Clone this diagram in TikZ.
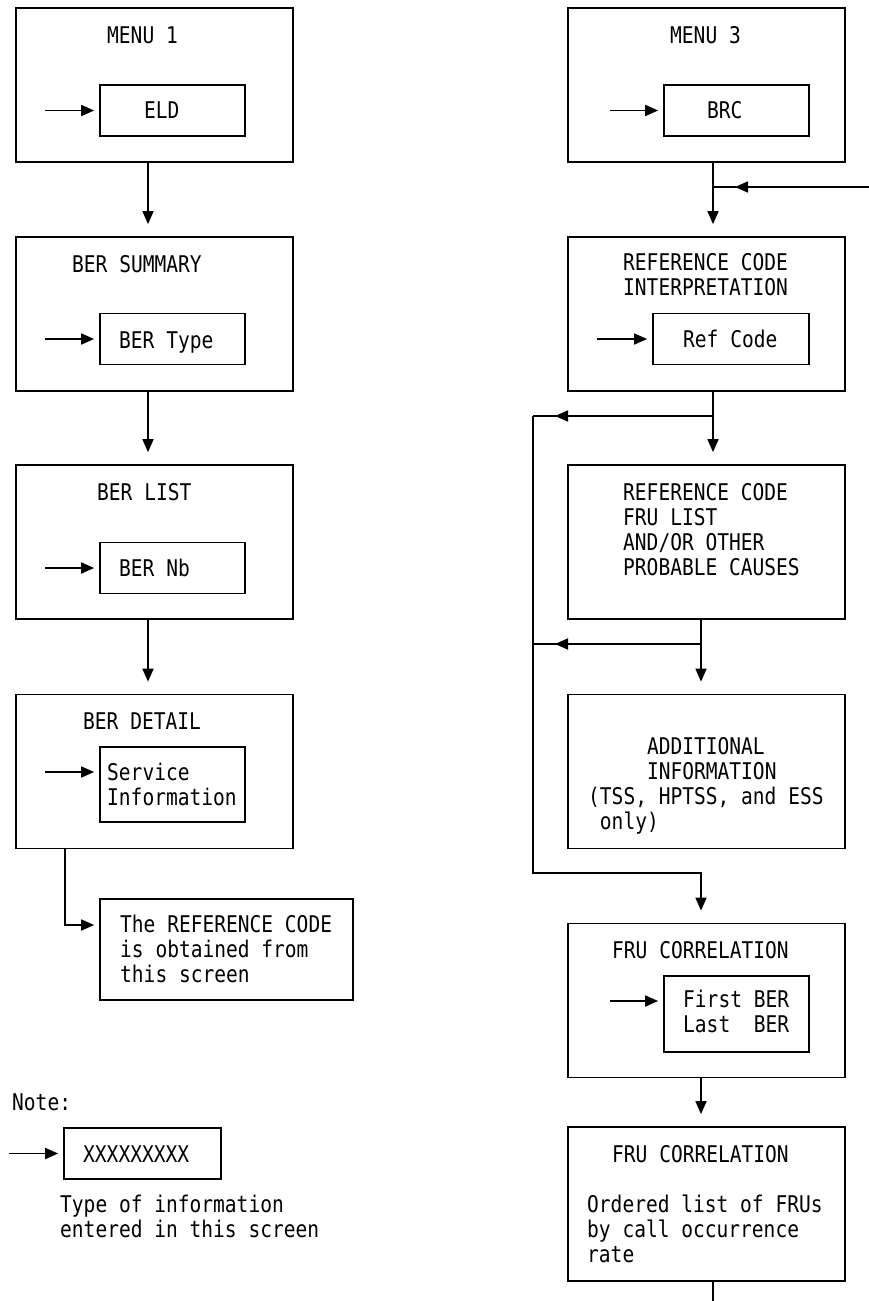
\documentclass[tikz,border=0pt]{standalone}
\usepackage{fontspec}
\newfontfamily\scrfont[FakeStretch=0.85]{DejaVu Sans Mono}
\usetikzlibrary{arrows.meta, positioning, calc, decorations.markings}
\tikzset{
    screen/.style={draw, line width=1.7pt, minimum width=277pt,
        minimum height=154pt, inner sep=0pt},
    field/.style={draw, line width=1.7pt, minimum width=145pt,
        minimum height=51pt, inner sep=0pt},
    txt/.style={font=\scrfont\fontsize{23}{25}\selectfont, inner sep=0pt,
        anchor=base west, align=left},
    flow/.style={line width=1.7pt, -{Triangle[length=13pt,width=11pt]}},
    wire/.style={line width=1.7pt},
    feed/.style={line width=1.7pt, postaction={decorate},
        decoration={markings, mark=at position -22pt with
            {\arrow{Triangle[length=13pt,width=11pt]}}}},
}
\begin{document}
\begin{tikzpicture}[x=1pt, y=-1pt]
        \useasboundingbox (0,0) rectangle (869,1301);

        % Linke Spalte
        \node[screen] (m1)   at (154.5,85)    {};
        \node[screen] (bsum) at (154.5,314)   {};
        \node[screen] (blst) at (154.5,542)   {};
        \node[screen] (bdet) at (154.5,771.5) {};

        \node[field] (eld)   at (172.5,110.5) {};
        \node[field] (btype) at (172.5,339)   {};
        \node[field] (bnb)   at (172.5,568)   {};
        \node[field, minimum height=75pt] (svc) at (172.5,784.5) {};

        \node[field, minimum width=253pt, minimum height=101pt] (note) at (226.5,949.5) {};
        \node[field, minimum width=157pt] (legend) at (142.5,1153.5) {};

        % (Grundlinie = letzte Zeile)
        \node[txt] (t1) at (107,43)  {MENU 1};
        \node[txt] (t2) at (144,118) {ELD};
        \node[txt] (t3) at (72,272)  {BER SUMMARY};
        \node[txt] (t4) at (119,348) {BER Type};
        \node[txt] (t5) at (97,500)  {BER LIST};
        \node[txt] (t6) at (119,576) {BER Nb};
        \node[txt] (t7) at (83,729)  {BER DETAIL};
        \node[txt] (t8) at (107,805) {Service\\Information};
        \node[txt] (t9) at (120,982) {The REFERENCE CODE\\is obtained from\\this screen};
        \node[txt] (t10) at (12,1110) {Note:};
        \node[txt] (t11) at (83,1162) {XXXXXXXXX};
        \node[txt] (t12) at (60,1237) {Type of information\\entered in this screen};

        % Rechte Spalte
        \node[screen] (m3)    at (706.5,85)     {};
        \node[screen] (rci)   at (706.5,314)    {};
        \node[screen] (frul)  at (706.5,542)    {};
        \node[screen] (addi)  at (706.5,771.5)  {};
        \node[screen] (fruc1) at (706.5,1000.5) {};
        \node[screen] (fruc2) at (706.5,1204)   {};

        \node[field] (brc)  at (736.5,110.5) {};
        \node[field, minimum width=156pt] (refc) at (731,339) {};
        \node[field, minimum height=76pt] (fbl)  at (736.5,1014) {};

        \node[txt] (r1) at (670,43)  {MENU 3};
        \node[txt] (r2) at (707,118) {BRC};
        \node[txt] (r3) at (623,295) {REFERENCE CODE\\INTERPRETATION};
        \node[txt] (r4) at (683,347) {Ref Code};
        \node[txt] (r5) at (623,575) {REFERENCE CODE\\FRU LIST\\AND/OR OTHER\\PROBABLE CAUSES};
        \node[txt] (r6) at (588,829) {~~~~~ADDITIONAL\\~~~~~INFORMATION\\(TSS, HPTSS, and ESS\\~only)};
        \node[txt] (r7) at (612,958)  {FRU CORRELATION};
        \node[txt] (r8) at (683,1032) {First BER\\Last~~BER};
        \node[txt] (r9) at (612,1162) {FRU CORRELATION};
        \node[txt] (r10) at (587,1262) {Ordered list of FRUs\\by call occurrence\\rate};

        % Hilfspunkte
        \coordinate (lx) at (148,0);
        \coordinate (nx) at (65,0);
        \coordinate (ra) at (713,0);
        \coordinate (rb) at (701,0);
        \coordinate (lp) at (533,0);
        \coordinate (edge) at (869,187);
        \coordinate (j1) at (713,187);
        \coordinate (j2) at (713,416);
        \coordinate (j3) at (701,644);
        \coordinate (j4) at (701,873);
        \coordinate (out) at (713,1301);

        % Eingaben
        \foreach \f in {eld, btype, bnb, legend} {
            \draw[flow, shorten >=5pt] ([xshift=-54pt]\f.west) -- (\f.west);
        }
        \draw[flow, shorten >=5pt] ([shift={(-54pt,12.5pt)}]svc.west) -- ([yshift=12.5pt]svc.west);
        \draw[flow, shorten >=5pt] ([xshift=-53pt]brc.west) -- (brc.west);
        \draw[flow, shorten >=5pt] ([xshift=-55pt]refc.west) -- (refc.west);
        \draw[flow, shorten >=5pt] ([shift={(-53pt,13pt)}]fbl.west) -- ([yshift=13pt]fbl.west);

        % Ablauf links
        \draw[flow, shorten >=12pt] (m1.south -| lx) -- (bsum.north -| lx);
        \draw[flow, shorten >=12pt] (bsum.south -| lx) -- (blst.north -| lx);
        \draw[flow, shorten >=12pt] (blst.south -| lx) -- (bdet.north -| lx);
        \draw[flow, shorten >=5pt] (bdet.south -| nx) |- ([yshift=24.5pt]note.west);

        % Ablauf rechts
        \draw[flow, shorten >=12pt] (m3.south -| ra) -- (rci.north -| ra);
        \draw[feed] (edge) -- (j1);
        \draw[flow, shorten >=12pt] (rci.south -| ra) -- (frul.north -| ra);
        \draw[feed] (j2) -- (j2 -| lp);
        \draw[flow, shorten >=12pt] (frul.south -| rb) -- (addi.north -| rb);
        \draw[feed] (j3) -- (j3 -| lp);
        \draw[flow, shorten >=12pt] (j2 -| lp) -- (j4 -| lp) -- (j4) -- (fruc1.north -| rb);
        \draw[flow, shorten >=12pt] (fruc1.south -| rb) -- (fruc2.north -| rb);
        \draw[wire] (fruc2.south -| ra) -- (out);
    \end{tikzpicture}
\end{document}
